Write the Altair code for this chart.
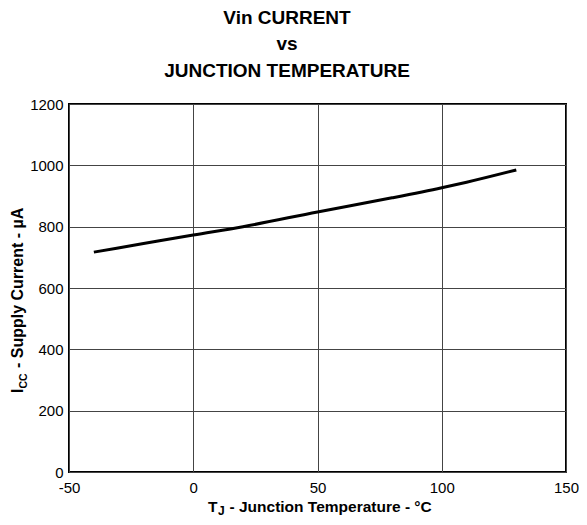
import altair as alt
import pandas as pd

# ---- data ----
temps = [-40, -20, 0, 20, 50, 80, 100, 110, 130]
icc = [717, 745, 773, 800, 848, 894, 927, 945, 985]
x_ticks = [-50, 0, 50, 100, 150]
y_ticks = [0, 200, 400, 600, 800, 1000, 1200]
title_lines = ["Vin CURRENT", "vs", "JUNCTION TEMPERATURE"]
x_title = ["T", "J", "- Junction Temperature - °C"]
y_title = ["I", "CC", "- Supply Current - µA"]

df = pd.DataFrame({"t": temps, "i": icc})
FONT = "Liberation Sans"
W, H = 497, 368
one = alt.Data(values=[{}])


def txt(s, x, y, size, angle=0, align="left"):
    return alt.Chart(one).mark_text(
        text=s, font=FONT, fontSize=size, fontWeight="bold", align=align,
        baseline="alphabetic", angle=angle, color="black"
    ).encode(x=alt.value(x), y=alt.value(y))


line = alt.Chart(df).mark_line(color="black", strokeWidth=3, interpolate="monotone").encode(
    x=alt.X("t:Q", scale=alt.Scale(domain=[-50, 150], nice=False, zero=False),
            axis=alt.Axis(values=x_ticks, title="", grid=True, ticks=False, domain=False,
                          labelPadding=8, labelFontSize=15, labelFont=FONT, labelColor="black",
                          gridColor="#444444", gridWidth=1, labelFlush=False,
                          labelExpr="datum.value + ''")),
    y=alt.Y("i:Q", scale=alt.Scale(domain=[0, 1200], nice=False),
            axis=alt.Axis(values=y_ticks, title="", grid=True, ticks=False, domain=False,
                          labelPadding=6, labelFontSize=15, labelFont=FONT, labelColor="black",
                          gridColor="#444444", gridWidth=1, labelExpr="datum.value + ''")),
)

layers = [line,
          txt(title_lines[0], 218, -80, 19, align="center"),
          txt(title_lines[1], 218, -54, 19, align="center"),
          txt(title_lines[2], 218, -27, 19, align="center"),
          txt(x_title[0], 139, 407.5, 15.5),
          txt(x_title[1], 149, 411, 12),
          txt(x_title[2], 160.5, 407.5, 15.5),
          txt(y_title[0], -46, 289, 16, angle=270),
          txt(y_title[1], -42, 284.6, 10.5, angle=270),
          txt(y_title[2], -46, 264, 16, angle=270),
          ]

chart = alt.layer(*layers).properties(
    width=W, height=H,
    autosize=alt.AutoSizeParams(type="none"),
    padding={"left": 61, "top": 96, "right": 13, "bottom": 45},
).configure_view(stroke="black", strokeWidth=2)

chart.save("out.html", embed_options={"renderer": "svg", "actions": False})
